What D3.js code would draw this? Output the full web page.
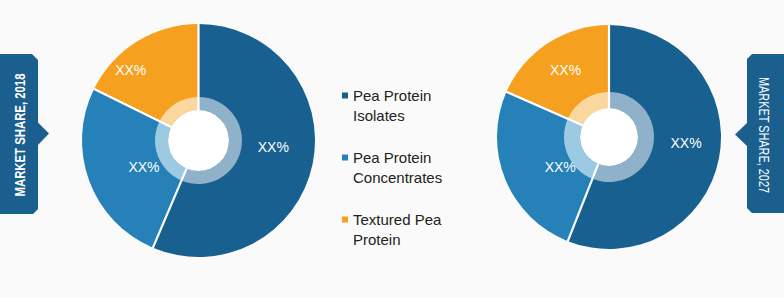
<!DOCTYPE html>
<html><head><meta charset="utf-8">
<script src="https://cdn.jsdelivr.net/npm/d3@7"></script>
<style>
html,body{margin:0;padding:0;background:#fafafa;}
svg{display:block;}
</style></head>
<body><div id="chart"></div>
<script>
// ---- data ----
const categories = ["Pea Protein Isolates", "Pea Protein Concentrates", "Textured Pea Protein"];
const legendLines = [["Pea Protein", "Isolates"], ["Pea Protein", "Concentrates"], ["Textured Pea", "Protein"]];
const share2018 = [56.4, 25.9, 17.7];
const share2027 = [56.0, 25.6, 18.4];
const valueLabels = ["XX%", "XX%", "XX%"];
const years = ["2018", "2027"];
const tabTitles = ["MARKET SHARE, 2018", "MARKET SHARE, 2027"];

// ---- style ----
const colors = ["#17608f", "#2581b7", "#f5a01f"];
const ringColors = ["#8fb1c9", "#9ccae2", "#fbd7a0"];
const W = 784, H = 298;
const svg = d3.select("#chart").append("svg").attr("width", W).attr("height", H);
svg.append("rect").attr("width", W).attr("height", H).attr("fill", "#fafafa");

const pies = [
  {values: share2018, cx: 198.5, cy: 140.5, r: 116.5, ringOuter: 43.5, ringInner: 30.5,
   labelR: [0.645, 0.52, 0.84], labelDA: [-6.5, -5.4, -12]},
  {values: share2027, cx: 609, cy: 137, r: 112, ringOuter: 45, ringInner: 29,
   labelR: [0.69, 0.51, 0.71], labelDA: [-6.3, -9, 0]}
];

const pie = d3.pie().sort(null).value(d => d);

pies.forEach(p => {
  const g = svg.append("g").attr("transform", `translate(${p.cx},${p.cy})`);
  const arcs = pie(p.values);
  const arc = d3.arc().innerRadius(0).outerRadius(p.r);
  const ring = d3.arc().innerRadius(p.ringInner).outerRadius(p.ringOuter);
  g.selectAll("path.slice").data(arcs).join("path")
    .attr("class", "slice").attr("d", arc)
    .attr("fill", (d, i) => colors[i]);
  g.selectAll("path.ring").data(arcs).join("path")
    .attr("class", "ring").attr("d", ring)
    .attr("fill", (d, i) => ringColors[i]);
  g.append("circle").attr("r", p.ringInner).attr("fill", "#ffffff");
  // separators
  g.selectAll("line.sep").data(arcs).join("line")
    .attr("class", "sep")
    .attr("x1", d => Math.sin(d.startAngle) * p.ringInner)
    .attr("y1", d => -Math.cos(d.startAngle) * p.ringInner)
    .attr("x2", d => Math.sin(d.startAngle) * (p.r + 1))
    .attr("y2", d => -Math.cos(d.startAngle) * (p.r + 1))
    .attr("stroke", "#ffffff").attr("stroke-width", 2.2);
  // labels
  g.selectAll("text.val").data(arcs).join("text")
    .attr("class", "val")
    .attr("x", (d, i) => { const a = (d.startAngle + d.endAngle) / 2 + p.labelDA[i] * Math.PI / 180; return Math.sin(a) * p.r * p.labelR[i]; })
    .attr("y", (d, i) => { const a = (d.startAngle + d.endAngle) / 2 + p.labelDA[i] * Math.PI / 180; return -Math.cos(a) * p.r * p.labelR[i]; })
    .attr("text-anchor", "middle").attr("dy", "0.36em")
    .attr("fill", "#ffffff")
    .attr("font-family", "'Liberation Sans', Arial, sans-serif")
    .attr("font-size", 14)
    .text((d, i) => valueLabels[i]);
});

// ---- legend ----
const legend = svg.append("g").attr("transform", "translate(342,0)");
const legY = d3.scalePoint().domain(categories).range([101, 225]);
categories.forEach((c, i) => {
  const y = legY(c);
  legend.append("rect").attr("x", 0).attr("y", y - 8.5).attr("width", 6).attr("height", 6).attr("fill", colors[i]);
  legendLines[i].forEach((ln, j) => {
    legend.append("text").attr("x", 11).attr("y", y + j * 19.5)
      .attr("fill", "#222222")
      .attr("font-family", "'Liberation Sans', Arial, sans-serif")
      .attr("font-size", 15).text(ln);
  });
});

// ---- side tabs ----
const tabColor = "#1a5f8e";
const leftTab = [[0,54],[32,54],[38,60],[38,122.5],[49,133.5],[38,145],[38,209],[33,214],[0,214]];
const rightTab = [[784,54],[752,54],[747,59],[747,123],[735,134.5],[747,146],[747,208],[752,213],[784,213]];
const line = d3.line();
svg.append("path").attr("d", line(leftTab) + "Z").attr("fill", tabColor);
svg.append("path").attr("d", line(rightTab) + "Z").attr("fill", tabColor);

svg.append("text").attr("transform", "translate(20,135) rotate(-90)")
  .attr("text-anchor", "middle").attr("dy", "0.36em")
  .attr("fill", "#ffffff").attr("font-size", 14)
  .attr("font-family", "'Liberation Sans Narrow', 'Liberation Sans', Arial, sans-serif")
  .attr("font-weight", "bold")
  .attr("textLength", 123).attr("lengthAdjust", "spacingAndGlyphs")
  .text(tabTitles[0]);
svg.append("text").attr("transform", "translate(764,135) rotate(90)")
  .attr("text-anchor", "middle").attr("dy", "0.36em")
  .attr("fill", "#ffffff").attr("font-size", 14)
  .attr("font-family", "'Liberation Sans Narrow', 'Liberation Sans', Arial, sans-serif")
  .attr("textLength", 116).attr("lengthAdjust", "spacingAndGlyphs")
  .text(tabTitles[1]);
</script>
</body></html>
